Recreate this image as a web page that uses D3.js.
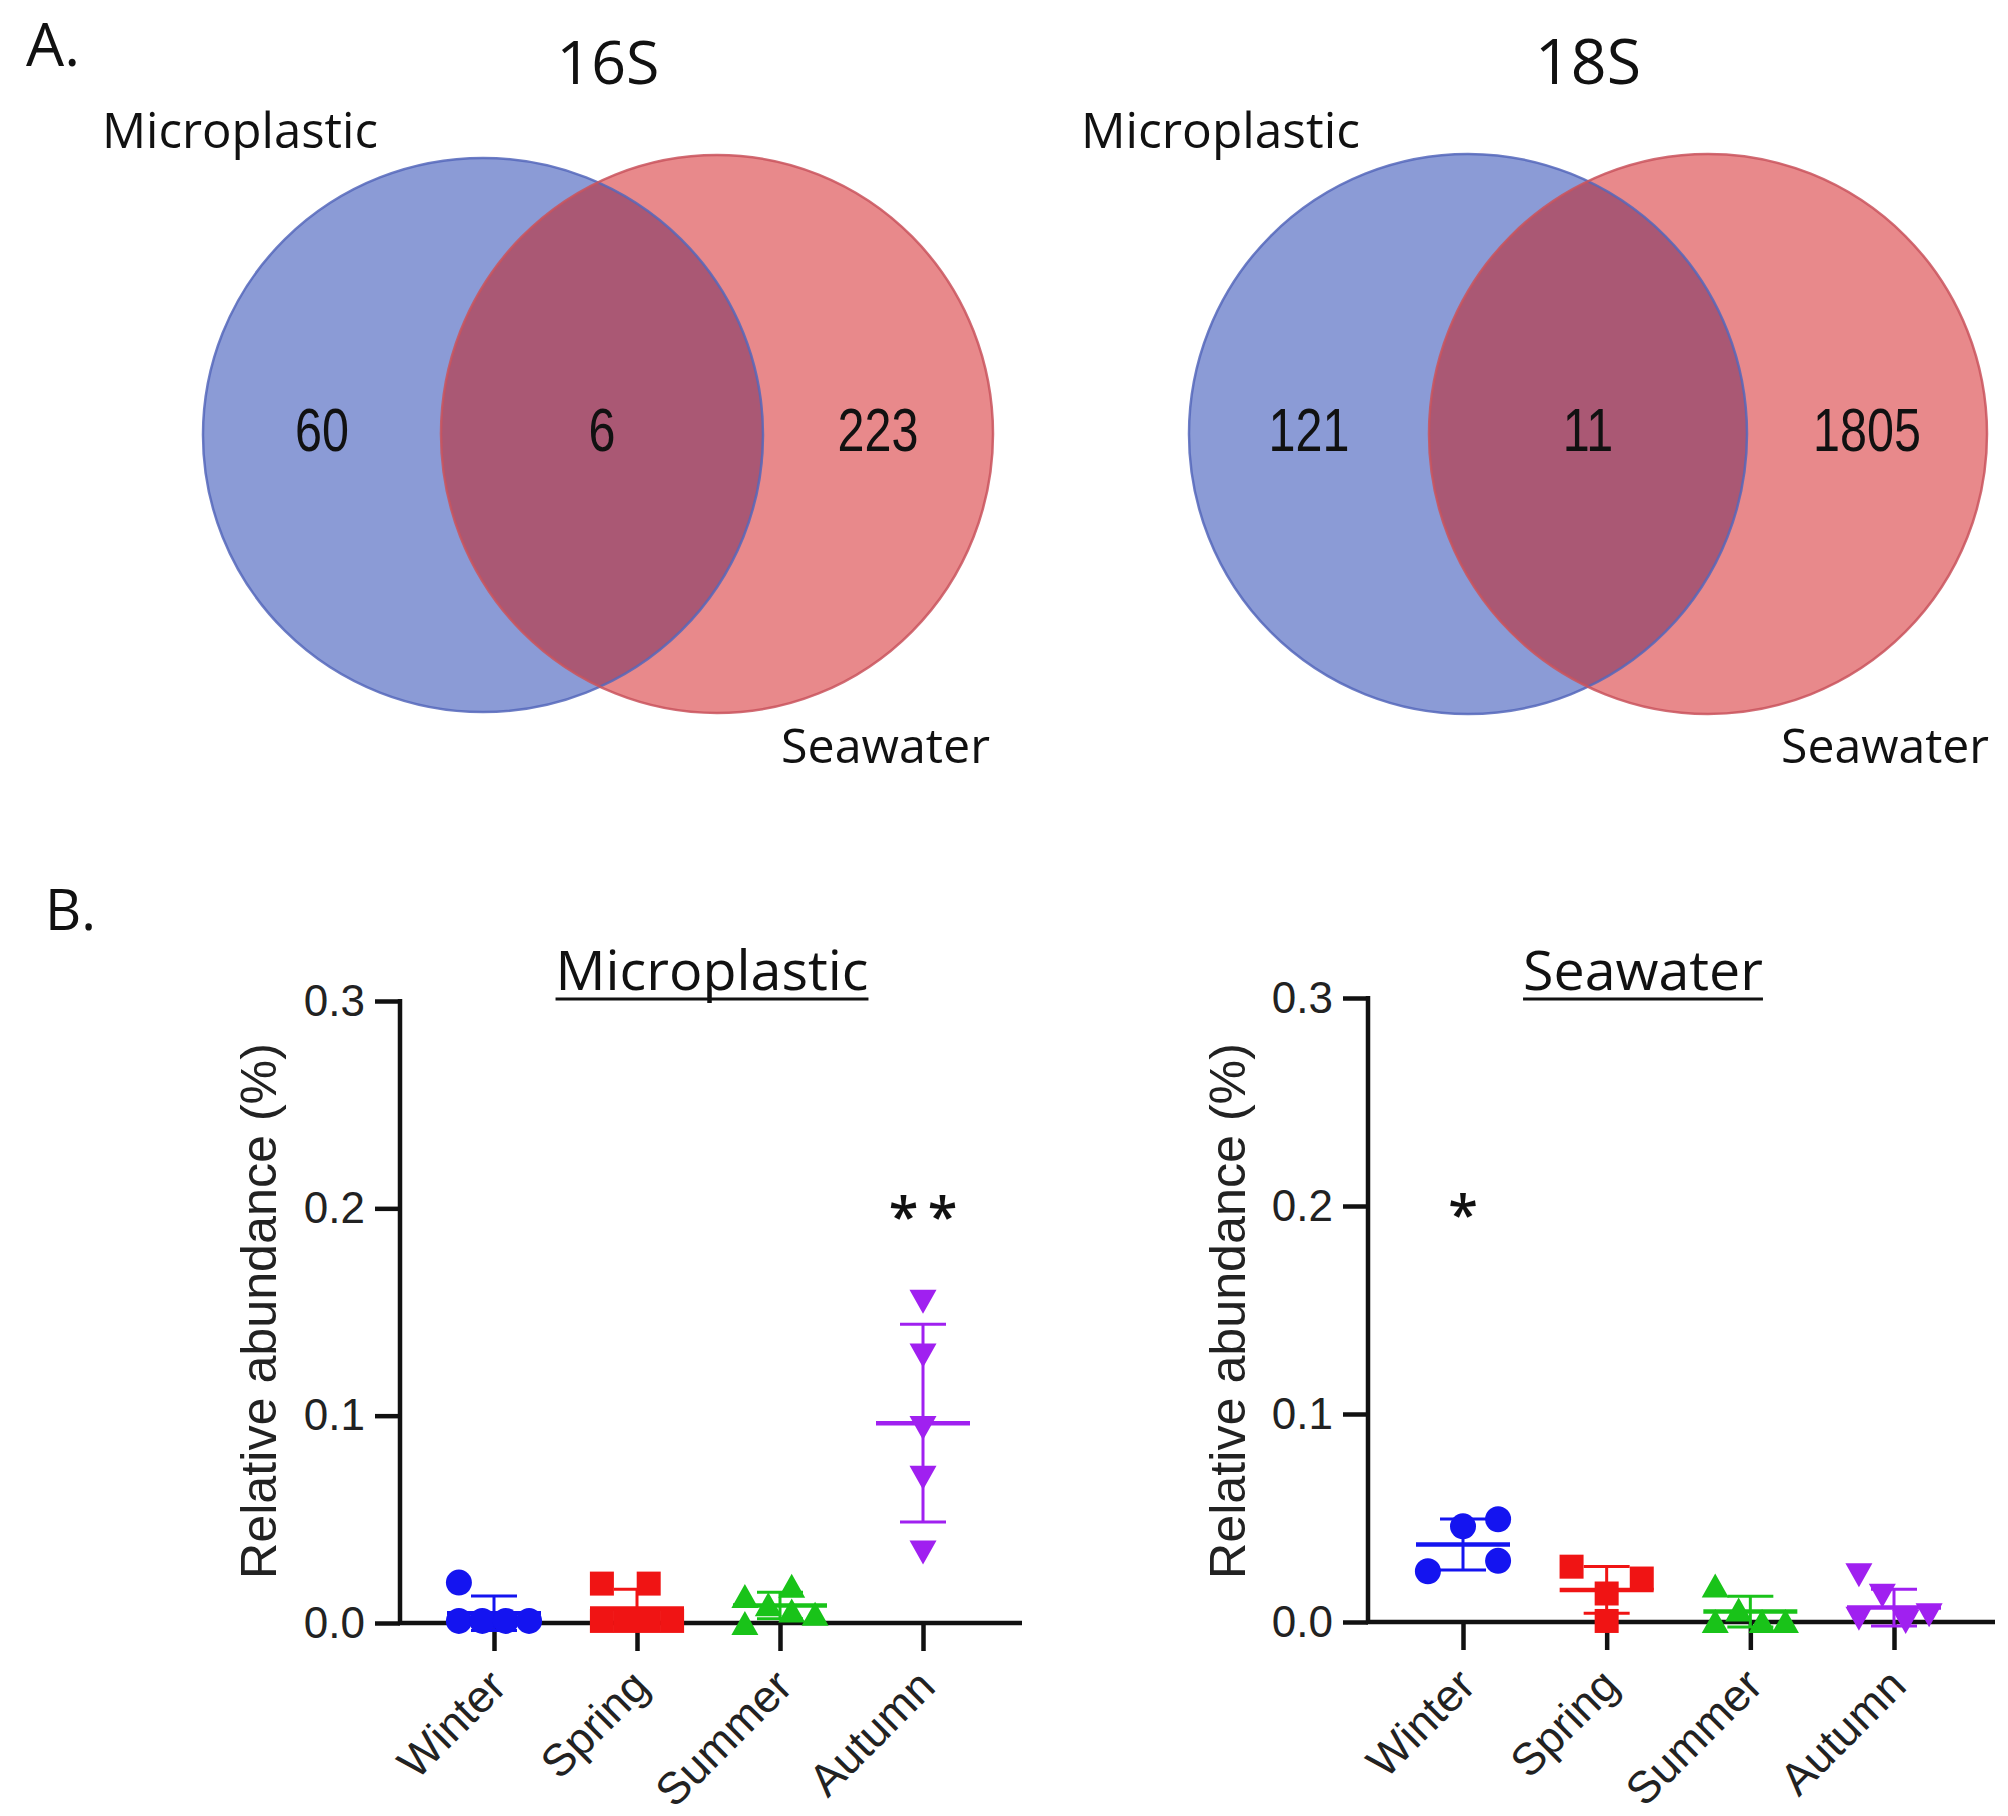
<!DOCTYPE html>
<html><head><meta charset="utf-8">
<script src="https://cdn.jsdelivr.net/npm/d3@7"></script>
<style>body{margin:0;background:#fff} svg{display:block}</style>
</head><body>
<svg id="c" width="2008" height="1816"></svg>
<script>
// ---------------- DATA ----------------
const vennTitles = ["16S", "18S"];
const setNames = ["Microplastic", "Seawater"];
const venn16S = [60, 6, 223];      // microplastic only, shared, seawater only
const venn18S = [121, 11, 1805];
const seasons = ["Winter", "Spring", "Summer", "Autumn"];
const yTicks = [0, 0.1, 0.2, 0.3];

const mpWinter = [0.0195, 0.001, 0.001, 0.001, 0.001];
const mpSpring = [0.019, 0.019, 0.001, 0.001, 0.001, 0.001];
const mpSummer = [0.013, 0.018, 0.0, 0.009, 0.006, 0.0045];
const mpAutumn = [0.155, 0.129, 0.094, 0.070, 0.034];
const swWinter = [0.0244, 0.046, 0.0494, 0.0294];
const swSpring = [0.0266, 0.0209, 0.0137, 0.0005];
const swSummer = [0.0175, 0.0005, 0.006, 0.0005, 0.0005];
const swAutumn = [0.0225, 0.0126, 0.0016, 0.0016, 0.0032, 0.0];

// horizontal arrangement slot of each point (as laid out in the scatter)
const mpWinterSlot = [-3, -3, -1, 1, 3];
const mpSpringSlot = [-3, 1, -3, -1, 1, 3];
const mpSummerSlot = [-3, 1, -3, -1, 1, 3];
const mpAutumnSlot = [0, 0, 0, 0, 0];
const swWinterSlot = [-3, 0, 3, 3];
const swSpringSlot = [-3, 3, 0, 0];
const swSummerSlot = [-3, -3, -1, 1, 3];
const swAutumnSlot = [-3, -1, -3, 1, 3, 1];

const mpSig = ["", "", "", "**"];
const swSig = ["*", "", "", ""];

// ---------------- STYLE ----------------
const seasonColors = ["#1414f0", "#f01414", "#19c319", "#a020f0"];
const seasonShapes = ["circle", "square", "triUp", "triDown"];
const sansUI = "'Open Sans', 'Noto Sans', sans-serif";
const arial = "'Liberation Sans', Arial, sans-serif";

const svg = d3.select("#c");
svg.append("rect").attr("width", 2008).attr("height", 1816).attr("fill", "#fff");

function fitText(sel, target) {
  const fs = parseFloat(sel.attr("font-size"));
  const w = sel.node().getComputedTextLength();
  sel.attr("font-size", fs * target / w);
  return sel;
}

// ---------------- PANEL LABELS ----------------
fitText(svg.append("text").attr("x", 26).attr("y", 66).attr("font-family", sansUI)
  .attr("font-size", 56).attr("fill", "#111").text("A."), 54);
fitText(svg.append("text").attr("x", 45).attr("y", 930).attr("font-family", sansUI)
  .attr("font-size", 56).attr("fill", "#111").text("B."), 51);

// ---------------- VENN ----------------
const vennLayouts = [
  { counts: venn16S, title: vennTitles[0], titleX: 608, titleW: 103,
    blue: { cx: 483, cy: 435, rx: 280, ry: 277 }, red: { cx: 717, cy: 434, rx: 276, ry: 279 },
    mp: { x: 102, w: 276 }, sw: { x: 781, w: 209 } },
  { counts: venn18S, title: vennTitles[1], titleX: 1588, titleW: 106,
    blue: { cx: 1468, cy: 434, rx: 279, ry: 280 }, red: { cx: 1708, cy: 434, rx: 279, ry: 280 },
    mp: { x: 1081, w: 279 }, sw: { x: 1781, w: 208 } }
];

vennLayouts.forEach((v, i) => {
  const g = svg.append("g");
  const clipId = "clipRed" + i;
  g.append("clipPath").attr("id", clipId).append("ellipse")
    .attr("cx", v.red.cx).attr("cy", v.red.cy).attr("rx", v.red.rx).attr("ry", v.red.ry);
  g.append("ellipse").attr("cx", v.blue.cx).attr("cy", v.blue.cy).attr("rx", v.blue.rx).attr("ry", v.blue.ry)
    .attr("fill", "#8b9bd6");
  g.append("ellipse").attr("cx", v.red.cx).attr("cy", v.red.cy).attr("rx", v.red.rx).attr("ry", v.red.ry)
    .attr("fill", "#e8898b");
  g.append("ellipse").attr("cx", v.blue.cx).attr("cy", v.blue.cy).attr("rx", v.blue.rx).attr("ry", v.blue.ry)
    .attr("fill", "#aa5874").attr("clip-path", `url(#${clipId})`);
  g.append("ellipse").attr("cx", v.blue.cx).attr("cy", v.blue.cy).attr("rx", v.blue.rx).attr("ry", v.blue.ry)
    .attr("fill", "none").attr("stroke", "#5567bb").attr("stroke-width", 2.5).attr("stroke-opacity", 0.85);
  g.append("ellipse").attr("cx", v.red.cx).attr("cy", v.red.cy).attr("rx", v.red.rx).attr("ry", v.red.ry)
    .attr("fill", "none").attr("stroke", "#c9545d").attr("stroke-width", 2.5).attr("stroke-opacity", 0.85);

  const bL = v.blue.cx - v.blue.rx, bR = v.blue.cx + v.blue.rx;
  const rL = v.red.cx - v.red.rx, rR = v.red.cx + v.red.rx;
  const numX = [(bL + rL) / 2, (rL + bR) / 2, (bR + rR) / 2];
  g.selectAll("text.num").data(v.counts).join("text").attr("class", "num")
    .attr("transform", (d, j) => `translate(${numX[j]},451) scale(0.97,1.22)`)
    .attr("text-anchor", "middle")
    .attr("font-family", arial).attr("font-size", 50).attr("fill", "#111").text(d => d);

  fitText(g.append("text").attr("x", v.titleX).attr("y", 84).attr("text-anchor", "middle")
    .attr("font-family", sansUI).attr("font-size", 60).attr("fill", "#111").text(v.title), v.titleW);
  fitText(g.append("text").attr("x", v.mp.x).attr("y", 148)
    .attr("font-family", sansUI).attr("font-size", 48).attr("fill", "#111").text(setNames[0]), v.mp.w);
  fitText(g.append("text").attr("x", v.sw.x).attr("y", 763)
    .attr("font-family", sansUI).attr("font-size", 48).attr("fill", "#111").text(setNames[1]), v.sw.w);
});

// ---------------- SCATTER PANELS ----------------
function markerPath(shape) {
  switch (shape) {
    case "circle": return "M13,0A13,13,0,1,1,-13,0A13,13,0,1,1,13,0Z";
    case "square": return "M-12,-12H12V12H-12Z";
    case "triUp": return "M0,-12L13.5,12L-13.5,12Z";
    case "triDown": return "M0,12L13.5,-12L-13.5,-12Z";
  }
}

const panels = [
  { title: setNames[0], groups: [mpWinter, mpSpring, mpSummer, mpAutumn],
    slots: [mpWinterSlot, mpSpringSlot, mpSummerSlot, mpAutumnSlot], sig: mpSig,
    axisX: 400, xr: [494, 923], xEnd: 1022, y0: 1623, y3: 1001, titleX: 712, titleW: 313, ylabX: 276 },
  { title: setNames[1], groups: [swWinter, swSpring, swSummer, swAutumn],
    slots: [swWinterSlot, swSpringSlot, swSummerSlot, swAutumnSlot], sig: swSig,
    axisX: 1368, xr: [1463, 1894], xEnd: 1995, y0: 1622, y3: 998, titleX: 1643, titleW: 240, ylabX: 1245 }
];

const slotUnit = 11.7;

panels.forEach(p => {
  const g = svg.append("g");
  const x = d3.scalePoint().domain(seasons).range(p.xr);
  const y = d3.scaleLinear().domain([0, 0.3]).range([p.y0, p.y3]);

  // y axis
  const ya = g.append("g").attr("transform", `translate(${p.axisX},0)`)
    .call(d3.axisLeft(y).tickValues(yTicks).tickFormat(d3.format(".1f")).tickSize(25).tickSizeOuter(0).tickPadding(10));
  ya.select(".domain").remove();
  ya.selectAll(".tick line").attr("stroke", "#111").attr("stroke-width", 4.5);
  ya.selectAll(".tick text").attr("font-family", arial).attr("font-size", 44).attr("fill", "#222");
  g.append("line").attr("x1", p.axisX).attr("x2", p.axisX).attr("y1", y(0.3) - 2).attr("y2", y(0) + 2)
    .attr("stroke", "#111").attr("stroke-width", 4.5);

  // x axis
  const xa = g.append("g").attr("transform", `translate(0,${p.y0})`)
    .call(d3.axisBottom(x).tickSize(28).tickSizeOuter(0));
  xa.select(".domain").remove();
  xa.selectAll(".tick line").attr("stroke", "#111").attr("stroke-width", 4.5);
  xa.selectAll(".tick text").attr("font-family", arial).attr("font-size", 45).attr("fill", "#222")
    .attr("text-anchor", "end").attr("x", 0).attr("y", 0).attr("dy", 0)
    .attr("transform", "translate(14,66) rotate(-45)");
  g.append("line").attr("x1", p.axisX - 2).attr("x2", p.xEnd).attr("y1", p.y0).attr("y2", p.y0)
    .attr("stroke", "#111").attr("stroke-width", 4.5);

  // y label
  fitText(g.append("text")
    .attr("transform", `translate(${p.ylabX},1311) rotate(-90)`)
    .attr("text-anchor", "middle").attr("font-family", arial).attr("font-size", 48).attr("fill", "#222")
    .text("Relative abundance (%)"), 536);

  // title, underlined
  const t = fitText(g.append("text").attr("x", p.titleX).attr("y", 990).attr("text-anchor", "middle")
    .attr("font-family", sansUI).attr("font-size", 52).attr("fill", "#111").text(p.title), p.titleW);
  const tw = t.node().getComputedTextLength();
  g.append("line").attr("x1", p.titleX - tw / 2).attr("x2", p.titleX + tw / 2).attr("y1", 999).attr("y2", 999)
    .attr("stroke", "#111").attr("stroke-width", 3);

  // groups
  p.groups.forEach((vals, gi) => {
    const cx = x(seasons[gi]);
    const col = seasonColors[gi];
    const m = d3.mean(vals), sd = d3.deviation(vals);
    const eb = g.append("g").attr("stroke", col).attr("fill", "none");
    eb.append("line").attr("x1", cx).attr("x2", cx).attr("y1", y(m - sd)).attr("y2", y(m + sd)).attr("stroke-width", 3);
    eb.append("line").attr("x1", cx - 23).attr("x2", cx + 23).attr("y1", y(m + sd)).attr("y2", y(m + sd)).attr("stroke-width", 3);
    eb.append("line").attr("x1", cx - 23).attr("x2", cx + 23).attr("y1", y(m - sd)).attr("y2", y(m - sd)).attr("stroke-width", 3);
    eb.append("line").attr("x1", cx - 47).attr("x2", cx + 47).attr("y1", y(m)).attr("y2", y(m)).attr("stroke-width", 4.5);

    g.append("g").selectAll("path").data(vals).join("path")
      .attr("d", markerPath(seasonShapes[gi]))
      .attr("transform", (d, k) => `translate(${cx + p.slots[gi][k] * slotUnit},${y(d)})`)
      .attr("fill", col);

    if (p.sig[gi]) {
      const stars = p.sig[gi].split("");
      stars.forEach((s, si) => {
        const sx = cx + (si - (stars.length - 1) / 2) * 39;
        g.append("text").attr("x", sx).attr("y", y(0.2) + 28).attr("text-anchor", "middle")
          .attr("font-family", sansUI).attr("font-size", 54).attr("font-weight", 600).attr("fill", "#111").text(s);
      });
    }
  });
});
</script>
</body></html>
